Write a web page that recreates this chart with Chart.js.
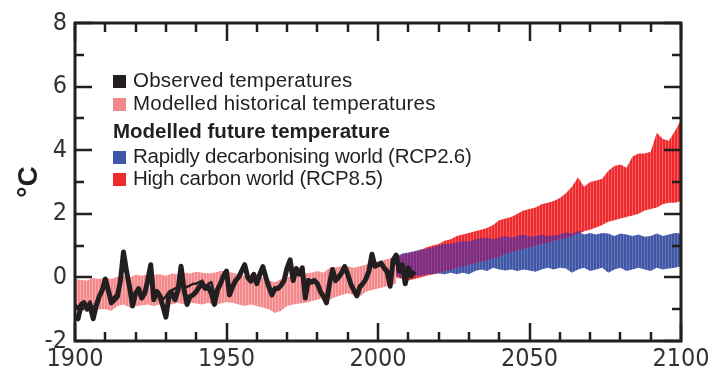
<!DOCTYPE html>
<html>
<head>
<meta charset="utf-8">
<script src="https://cdn.jsdelivr.net/npm/chart.js@4.4.1/dist/chart.umd.min.js"></script>
<style>
  html, body { margin: 0; padding: 0; background: #fff; }
  #wrap { position: relative; width: 718px; height: 371px; }
  #legend .row {
    position: absolute; left: 113px; height: 22px; line-height: 22px;
    font: 20.5px "Liberation Sans", Arial, sans-serif; letter-spacing: 0.2px;
    color: #231f20; white-space: nowrap;
  }
  #legend .row.head { font-weight: bold; letter-spacing: 0; }
  #legend .row.tight { letter-spacing: -0.25px; }
  #legend .sw { display: inline-block; width: 13px; height: 13px; margin-right: 7px; vertical-align: -1px; letter-spacing: 0; }
</style>
</head>
<body>
<div id="wrap">
  <canvas id="chart" width="718" height="371"></canvas>
  <div id="legend">
    <div class="row" style="top:68px"><span class="sw" style="background:#231f20"></span>Observed temperatures</div>
    <div class="row" style="top:91px"><span class="sw" style="background:#f3898c"></span>Modelled historical temperatures</div>
    <div class="row head" style="top:119px">Modelled future temperature</div>
    <div class="row tight" style="top:144px"><span class="sw" style="background:#3f56a6"></span>Rapidly decarbonising world (RCP2.6)</div>
    <div class="row tight" style="top:166px"><span class="sw" style="background:#ee2a2f"></span>High carbon world (RCP8.5)</div>
  </div>
</div>
<script>
function range(start, end, step) {
  const out = [];
  for (let v = start; v <= end; v += step) out.push(v);
  return out;
}

// Axis ticks
const xTicks = range(1900, 2100, 10);
const yTicks = range(-2, 8, 1);

// Modelled historical band (every 2 years, 1900-2006)
const histYears = range(1900, 2006, 2);
const histHi = [
  -0.05, -0.08, -0.10, -0.02, -0.05,
   0.00, -0.05,  0.02,  0.05,  0.00,
   0.08,  0.05,  0.10,  0.08,  0.10,
   0.05,  0.12,  0.10,  0.15,  0.12,
   0.18,  0.15,  0.12,  0.15,  0.20,
   0.20,  0.15,  0.10,  0.05,  0.10,
   0.05,  0.00, -0.10, -0.15, -0.05,
   0.00,  0.05,  0.10,  0.12,  0.15,
   0.20,  0.15,  0.30,  0.32,  0.35,
   0.35,  0.30,  0.35,  0.40,  0.45,
   0.50,  0.55,  0.60,  0.62
];
const histLo = [
  -0.95, -1.00, -0.95, -1.05, -1.00,
  -1.00, -1.05, -0.90, -0.85, -0.95,
  -0.90, -0.88, -0.85, -0.90, -0.85,
  -0.80, -0.85, -0.80, -0.85, -0.80,
  -0.82, -0.85, -0.80, -0.88, -0.82,
  -0.78, -0.80, -0.85, -0.90, -0.85,
  -0.90, -0.95, -1.00, -1.12, -1.05,
  -0.90, -0.85, -0.82, -0.80, -0.75,
  -0.70, -0.65, -0.70, -0.62, -0.55,
  -0.50, -0.55, -0.60, -0.45, -0.40,
  -0.35, -0.30, -0.25, -0.20
];

// Future bands (every 2 years, 2006-2100)
const futYears = range(2006, 2100, 2);
const rcp26Hi = [
  0.65, 0.75, 0.78, 0.82, 0.88, 0.90, 0.95, 1.00,
  1.05, 1.05, 1.10, 1.15, 1.12,
  1.20, 1.22, 1.25, 1.20, 1.25,
  1.30, 1.25, 1.30, 1.35, 1.28,
  1.30, 1.35, 1.30, 1.32, 1.35,
  1.42, 1.38, 1.45, 1.35, 1.40,
  1.35, 1.40, 1.38, 1.30, 1.38,
  1.35, 1.30, 1.35, 1.28, 1.30,
  1.38, 1.30, 1.35, 1.40, 1.38
];
const rcp26Lo = [
  0.05, 0.00, 0.05, 0.05, 0.05, 0.10, 0.10, 0.12,
  0.10, 0.15, 0.10, 0.15, 0.10,
  0.20, 0.25, 0.20, 0.30, 0.25,
  0.22, 0.25, 0.20, 0.25, 0.22,
  0.18, 0.25, 0.30, 0.25, 0.30,
  0.28, 0.15, 0.25, 0.30, 0.20,
  0.25, 0.30, 0.15, 0.25, 0.30,
  0.20, 0.25, 0.30, 0.25, 0.20,
  0.30, 0.25, 0.28, 0.30, 0.35
];
const rcp85Hi = [
  0.65, 0.70, 0.75, 0.80, 0.85, 0.95, 1.00, 1.05,
  1.15, 1.20, 1.30, 1.35, 1.40,
  1.45, 1.50, 1.55, 1.65, 1.80,
  1.85, 1.90, 2.00, 2.10, 2.15,
  2.20, 2.30, 2.35, 2.40, 2.50,
  2.65, 2.85, 3.15, 2.85, 3.00,
  3.05, 3.10, 3.35, 3.50, 3.55,
  3.45, 3.80, 3.90, 3.90, 3.95,
  4.55, 4.35, 4.30, 4.60, 4.95
];
const rcp85Lo = [
  0.00, -0.05, -0.10, -0.05, 0.00, 0.05, 0.10, 0.15,
  0.20, 0.25, 0.30, 0.35, 0.40,
  0.45, 0.50, 0.55, 0.60, 0.65,
  0.75, 0.80, 0.85, 0.90, 0.95,
  1.00, 1.05, 1.10, 1.15, 1.20,
  1.25, 1.30, 1.38, 1.45, 1.50,
  1.57, 1.65, 1.75, 1.80, 1.85,
  1.90, 1.95, 2.00, 2.10, 2.15,
  2.20, 2.30, 2.35, 2.35, 2.40
];

// Observed temperatures (annual, 1900-2012), main record
const obsYears = range(1900, 2012, 1);
const observed = [
  -1.20, -1.30, -0.90, -0.80, -1.00, -0.90, -1.30, -0.90, -0.60, -0.40,
  -0.05, -0.40, -0.80, -0.70, -0.60, -0.10,  0.80,  0.20, -0.30, -0.90,
  -0.50, -0.35, -0.65, -0.50, -0.10,  0.40, -0.70, -0.45, -0.60, -0.90,
  -1.25, -0.60, -0.50, -0.70, -0.40,  0.35, -0.40, -0.85, -0.60, -0.55,
  -0.45, -0.30, -0.20, -0.35, -0.30, -0.50, -0.85, -0.40, -0.20,  0.05,
   0.20, -0.55, -0.30, -0.10,  0.00,  0.20,  0.40,  0.00, -0.12,  0.10,
  -0.20,  0.10,  0.34,  0.00, -0.30, -0.55, -0.35, -0.35, -0.25, -0.10,
   0.30,  0.55, -0.10,  0.28,  0.10,  0.30, -0.65, -0.10, -0.15, -0.10,
  -0.20, -0.45, -0.60, -0.80, -0.20,  0.25, -0.10,  0.00,  0.15,  0.34,
   0.10, -0.20, -0.40, -0.58, -0.30, -0.20, -0.05,  0.20,  0.73,  0.35,
   0.40,  0.45,  0.30,  0.18, -0.28,  0.55,  0.70,  0.20,  0.40, -0.20,
   0.30,  0.05,  0.20
];
// second observational record where it departs from the first (1900-1950)
const obsAltYears = range(1900, 1950, 1);
const observedAlt = [
  -0.85, -0.95, -0.80, -0.75, -0.90, -0.75, -1.00, -0.80, -0.55, -0.35,
  -0.10, -0.45, -0.70, -0.60, -0.50, -0.20,  0.60,  0.10, -0.35, -0.75,
  -0.45, -0.40, -0.55, -0.45, -0.15,  0.30, -0.55, -0.40, -0.50, -0.70,
  -0.60, -0.45, -0.40, -0.35, -0.30, -0.20, -0.30, -0.30, -0.25, -0.20,
  -0.20, -0.15, -0.10, -0.30, -0.20, -0.15, -0.55, -0.30, -0.15,  0.00,
   0.15
];

const INK = '#231f20';

function stripes(base, light) {
  const c = document.createElement('canvas');
  c.width = 3; c.height = 4;
  const g = c.getContext('2d');
  g.fillStyle = base; g.fillRect(0, 0, 3, 4);
  g.fillStyle = light; g.fillRect(2, 0, 1, 4);
  return g.createPattern(c, 'repeat');
}

function pts(xs, ys) {
  return xs.map((x, i) => ({ x, y: ys[i] }));
}

// overlap of the two future bands, drawn in purple
const overlapLo = futYears.map((_, i) => Math.max(rcp26Lo[i], rcp85Lo[i]));
const overlapHi = futYears.map((_, i) => Math.max(overlapLo[i], Math.min(rcp26Hi[i], rcp85Hi[i])));

// lower `order` is drawn on top
function edge(label, data, order) {
  return { label, data, order, borderWidth: 0, borderColor: 'transparent', pointRadius: 0, fill: false, tension: 0 };
}
function band(label, data, pattern, order) {
  return { label, data, order, borderWidth: 0, borderColor: 'transparent', pointRadius: 0, fill: '-1', backgroundColor: pattern, tension: 0 };
}
function obsLine(label, data, width, order) {
  return { label, data, order, borderColor: INK, borderWidth: width, borderJoinStyle: 'round', pointRadius: 0, fill: false, tension: 0 };
}

const frame = {
  id: 'frame',
  afterDatasetsDraw(chart) {
    const { ctx, chartArea: a, scales: { x, y } } = chart;
    ctx.save();
    ctx.strokeStyle = INK;
    ctx.lineWidth = 2.5;
    ctx.lineCap = 'butt';
    ctx.beginPath();
    for (const v of xTicks) {
      const px = Math.round(x.getPixelForValue(v));
      const len = v % 50 === 0 ? 18 : 9;
      ctx.moveTo(px, a.bottom); ctx.lineTo(px, a.bottom - len);
      ctx.moveTo(px, a.top);    ctx.lineTo(px, a.top + len);
    }
    for (const v of yTicks) {
      const py = Math.round(y.getPixelForValue(v));
      const len = v % 2 === 0 ? 17 : 9;
      ctx.moveTo(a.left, py);  ctx.lineTo(a.left + len, py);
      ctx.moveTo(a.right, py); ctx.lineTo(a.right - len, py);
    }
    ctx.stroke();
    ctx.lineWidth = 3;
    ctx.strokeRect(a.left, a.top, a.right - a.left, a.bottom - a.top);
    ctx.restore();
  }
};

const tickFont = { family: '"Liberation Sans Narrow", "DejaVu Sans Condensed", sans-serif', size: 25 };

new Chart(document.getElementById('chart'), {
  type: 'line',
  data: {
    datasets: [
      edge('hist lo', pts(histYears, histLo), 5),
      band('Modelled historical temperatures', pts(histYears, histHi), stripes('#f3898c', '#f8acac'), 5),
      edge('rcp26 lo', pts(futYears, rcp26Lo), 4),
      band('Rapidly decarbonising world (RCP2.6)', pts(futYears, rcp26Hi), stripes('#3f56a6', '#6779b9'), 4),
      edge('rcp85 lo', pts(futYears, rcp85Lo), 3),
      band('High carbon world (RCP8.5)', pts(futYears, rcp85Hi), stripes('#ee2a2f', '#f45f60'), 3),
      edge('overlap lo', pts(futYears, overlapLo), 2),
      band('overlap', pts(futYears, overlapHi), stripes('#7d2b7f', '#8e4491'), 2),
      obsLine('Observed temperatures', pts(obsYears, observed), 5, 0),
      obsLine('Observed temperatures (alt)', pts(obsAltYears, observedAlt), 2.5, 1),
    ],
  },
  options: {
    responsive: false,
    animation: false,
    layout: { padding: { top: 16, right: 37, left: 0, bottom: 0 } },
    plugins: { legend: { display: false }, tooltip: { enabled: false } },
    scales: {
      x: {
        type: 'linear',
        min: 1900, max: 2100,
        grid: { display: false, drawTicks: false },
        border: { display: false },
        ticks: { stepSize: 50, color: '#333', font: tickFont, padding: 3, maxRotation: 0, callback: v => String(v) },
        afterFit: s => { s.height = 30; },
      },
      y: {
        min: -2, max: 8,
        grid: { display: false, drawTicks: false },
        border: { display: false },
        ticks: { stepSize: 2, color: '#333', font: tickFont, padding: 8 },
        title: {
          display: true, text: '°C', color: INK,
          font: { family: '"Liberation Sans", Arial, sans-serif', size: 28, weight: 'bold' },
          padding: { top: 12, bottom: 0 },
        },
        afterFit: s => { s.width = 75; },
      },
    },
  },
  plugins: [frame],
});
</script>
</body>
</html>
